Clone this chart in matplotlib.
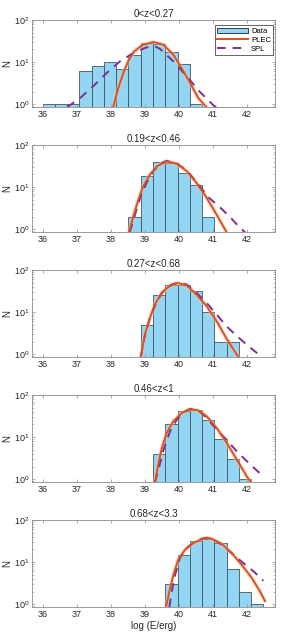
import matplotlib

matplotlib.use("Agg")
import matplotlib.pyplot as plt
from matplotlib.lines import Line2D
from matplotlib.patches import Patch

plt.rcParams["font.family"] = ["Liberation Sans", "DejaVu Sans"]

# histogram bin edges, log(E/erg)
bin_edges = [36.00, 36.36, 36.72, 37.08, 37.44, 37.80, 38.16, 38.52, 38.88, 39.24,
             39.60, 39.96, 40.32, 40.68, 41.04, 41.40, 41.76, 42.12, 42.48]

z_labels = ["0<z<0.27", "0.19<z<0.46", "0.27<z<0.68", "0.46<z<1", "0.68<z<3.3"]

# counts per bin (18 bins), one list per redshift slice
counts_z1 = [1, 1, 1, 6, 8, 10, 7, 15, 28, 27, 17, 9, 1, 0, 0, 0, 0, 0]
counts_z2 = [0, 0, 0, 0, 0, 0, 0, 2, 18, 40, 37, 22, 11, 2, 0, 0, 0, 0]
counts_z3 = [0, 0, 0, 0, 0, 0, 0, 0, 5, 26, 44, 43, 32, 10, 2, 2, 0, 0]
counts_z4 = [0, 0, 0, 0, 0, 0, 0, 0, 0, 4, 21, 41, 44, 26, 9, 3, 1, 0]
counts_z5 = [0, 0, 0, 0, 0, 0, 0, 0, 0, 0, 3, 15, 31, 36, 28, 7, 2, 1]

# PLEC fit (logE, N)
plec_x1 = [38.07, 38.22, 38.37, 38.51, 38.66, 38.91, 39.25, 39.54, 39.84, 40.08, 40.33, 40.57, 40.82]
plec_y1 = [0.85, 2.4, 5.5, 10.4, 17, 25, 30, 26, 15, 7.2, 3.2, 1.4, 0.83]
plec_x2 = [38.54, 38.66, 38.81, 38.95, 39.15, 39.35, 39.64, 39.94, 40.23, 40.52, 40.82, 41.11, 41.40]
plec_y2 = [0.85, 2.0, 5.0, 10.4, 19.7, 31, 41, 36, 24, 12.5, 5.5, 2.2, 0.85]
plec_x3 = [38.88, 39.00, 39.15, 39.29, 39.49, 39.74, 39.98, 40.23, 40.52, 40.82, 41.11, 41.40, 41.75]
plec_y3 = [0.85, 2.9, 7.2, 15, 28.4, 43, 49, 43, 26, 13.7, 6.05, 2.34, 0.85]
plec_x4 = [39.30, 39.40, 39.50, 39.64, 39.84, 40.08, 40.33, 40.57, 40.82, 41.11, 41.41, 41.70, 41.99, 42.11]
plec_y4 = [0.85, 2.4, 5.5, 12.5, 24, 37, 46, 43, 31, 16.4, 7.2, 2.9, 1.18, 0.85]
plec_x5 = [39.62, 39.72, 39.84, 39.98, 40.18, 40.42, 40.72, 40.81, 40.96, 41.26, 41.55, 41.84, 42.14, 42.38, 42.53]
plec_y5 = [0.85, 2.0, 5.0, 11.4, 19.7, 28.4, 36, 38, 36, 27, 16.4, 8.7, 4.2, 2.0, 1.18]

# SPL fit (logE, N)
spl_x1 = [36.72, 37.10, 37.49, 37.88, 38.27, 38.66, 39.05, 39.30, 39.44, 39.84, 40.23, 40.62, 41.02, 41.15]
spl_y1 = [0.85, 1.4, 2.7, 5.5, 10.4, 16.4, 22.4, 23.6, 20.8, 10.4, 4.6, 1.95, 0.93, 0.8]
spl_x2 = [38.56, 38.71, 38.86, 39.05, 39.25, 39.44, 39.64, 39.94, 40.23, 40.62, 40.86, 41.19, 41.50, 41.75, 42.00]
spl_y2 = [0.85, 2.2, 5.5, 12.5, 24, 36, 42, 36, 25, 10.4, 5.8, 3.4, 1.95, 1.18, 0.76]
spl_x3 = [38.88, 39.00, 39.15, 39.35, 39.54, 39.79, 39.98, 40.23, 40.52, 40.82, 41.11, 41.40, 41.70, 41.99, 42.29, 42.43]
spl_y3 = [0.85, 2.7, 7.2, 18, 31, 45, 51, 45, 28.4, 16.4, 8.7, 4.6, 2.7, 1.69, 1.07, 0.85]
spl_x4 = [39.30, 39.40, 39.55, 39.74, 39.94, 40.13, 40.33, 40.57, 40.82, 41.11, 41.41, 41.70, 41.99, 42.28, 42.48]
spl_y4 = [0.85, 1.7, 5.0, 13.7, 25.9, 38.7, 47, 43, 28.4, 15, 8.4, 4.6, 2.7, 1.63, 1.18]
spl_x5 = [39.72, 39.79, 39.89, 40.03, 40.23, 40.47, 40.72, 40.96, 41.26, 41.60, 41.89, 42.19, 42.48]
spl_y5 = [0.85, 2.0, 5.0, 12.5, 21.6, 31, 37, 36, 26, 15, 9.5, 6.05, 3.6]

counts = [counts_z1, counts_z2, counts_z3, counts_z4, counts_z5]
plec = [(plec_x1, plec_y1), (plec_x2, plec_y2), (plec_x3, plec_y3), (plec_x4, plec_y4), (plec_x5, plec_y5)]
spl = [(spl_x1, spl_y1), (spl_x2, spl_y2), (spl_x3, spl_y3), (spl_x4, spl_y4), (spl_x5, spl_y5)]

BAR_COLOR = "#93d6f3"
EDGE_COLOR = "#45545c"
PLEC_COLOR = "#d95319"
SPL_COLOR = "#7e2f8e"
AXIS_COLOR = "#8a8a8a"
TEXT_COLOR = "#262626"
SPL_DASH = (0, (4.5, 3.5))

W, H = 287, 642
fig = plt.figure(figsize=(W / 100, H / 100), dpi=100)

for i in range(5):
    top_px = 20 + 125 * i
    ax = fig.add_axes([32 / W, 1 - (top_px + 87) / H, 243 / W, 87 / H])

    lefts = [bin_edges[k] for k, c in enumerate(counts[i]) if c > 0]
    widths = [bin_edges[k + 1] - bin_edges[k] for k, c in enumerate(counts[i]) if c > 0]
    heights = [c for c in counts[i] if c > 0]
    ax.bar(lefts, heights, width=widths, bottom=1e-3, align="edge",
           color=BAR_COLOR, edgecolor=EDGE_COLOR, linewidth=0.6, zorder=1)

    # faint confidence band behind the PLEC fit
    px, py = plec[i]
    ax.plot(px, py, color="#f4c0b4", alpha=0.45, linewidth=3.2, zorder=2,
            solid_capstyle="butt")
    ax.plot(px, py, color=PLEC_COLOR, linewidth=1.4, zorder=4)
    sx, sy = spl[i]
    ax.plot(sx, sy, color=SPL_COLOR, linewidth=1.4, linestyle=SPL_DASH, zorder=3)

    ax.set_yscale("log")
    ax.set_xlim(35.69, 42.82)
    ax.set_ylim(0.86, 100)
    ax.set_xticks([36, 37, 38, 39, 40, 41, 42])
    ax.set_yticks([1, 10, 100])
    ax.tick_params(which="both", direction="in", top=True, right=True,
                   labelsize=6.5, colors=AXIS_COLOR, labelcolor=TEXT_COLOR, pad=2)
    ax.tick_params(which="major", length=2.5, width=0.5)
    ax.tick_params(which="minor", length=1.3, width=0.4)
    for side in ax.spines.values():
        side.set_color(AXIS_COLOR)
        side.set_linewidth(0.6)

    ax.set_title(z_labels[i], fontsize=7, pad=2.5, color=TEXT_COLOR)
    ax.set_ylabel("N", fontsize=7, labelpad=1, color=TEXT_COLOR)
    if i == 4:
        ax.set_xlabel("log (E/erg)", fontsize=7, labelpad=1.5, color=TEXT_COLOR)

    if i == 0:
        handles = [
            Patch(facecolor=BAR_COLOR, edgecolor="#222222", linewidth=0.6),
            Line2D([], [], color=PLEC_COLOR, linewidth=1.4),
            Line2D([], [], color=SPL_COLOR, linewidth=1.4, linestyle=SPL_DASH),
        ]
        leg = ax.legend(handles, ["Data", "PLEC", "SPL"], loc="upper right",
                        bbox_to_anchor=(0.993, 0.94), borderaxespad=0, fontsize=5.5,
                        handlelength=4.0, handletextpad=0.4, borderpad=0.3,
                        labelspacing=0.2, fancybox=False, framealpha=1)
        leg.get_frame().set_edgecolor(TEXT_COLOR)
        leg.get_frame().set_linewidth(0.5)

fig.savefig("out.png", dpi=100)
